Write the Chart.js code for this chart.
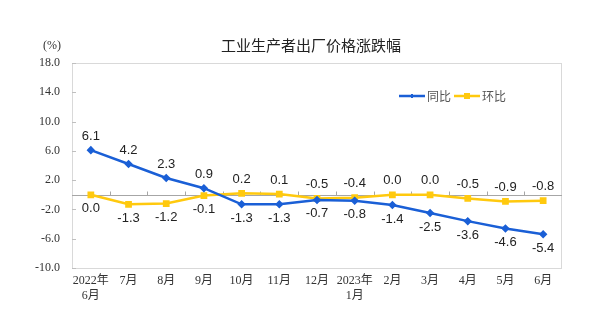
<!DOCTYPE html>
<html>
<head>
<meta charset="utf-8">
<script src="https://cdn.jsdelivr.net/npm/chart.js@4"></script>
<style>
  html, body { margin: 0; padding: 0; background: #fff; }
  #wrap { width: 600px; height: 325px; }
</style>
</head>
<body>
<div id="wrap"><canvas id="c"></canvas></div>
<script>
const months = [['2022年', '6月'], '7月', '8月', '9月', '10月', '11月', '12月', ['2023年', '1月'], '2月', '3月', '4月', '5月', '6月'];
const yoy = [6.1, 4.2, 2.3, 0.9, -1.3, -1.3, -0.7, -0.8, -1.4, -2.5, -3.6, -4.6, -5.4]; // 同比
const mom = [0.0, -1.3, -1.2, -0.1, 0.2, 0.1, -0.5, -0.4, 0.0, 0.0, -0.5, -0.9, -0.8]; // 环比
const yTicks = [18, 14, 10, 6, 2, -2, -6, -10];

const BLUE = '#1a5fd6';
const YELLOW = '#ffc90e';
const serif = '"Liberation Serif", "Noto Sans CJK SC", serif';
const sans = '"Liberation Sans", Arial, sans-serif';
const cjk = '"Noto Sans CJK SC", sans-serif';

// frame, zero line, tick marks, title, legend and value labels
const decor = {
  id: 'decor',
  beforeDatasetsDraw(chart) {
    const { ctx, chartArea: a, scales: { x, y } } = chart;
    ctx.save();
    ctx.strokeStyle = '#d9d9d9';
    ctx.lineWidth = 1;
    ctx.strokeRect(a.left + 0.5, a.top + 0.5, a.right - a.left - 1, a.bottom - a.top);
    // y tick marks
    ctx.strokeStyle = '#bfbfbf';
    ctx.beginPath();
    yTicks.forEach(v => {
      const py = Math.round(y.getPixelForValue(v)) + 0.5;
      ctx.moveTo(a.left, py);
      ctx.lineTo(a.left + 4, py);
    });
    ctx.stroke();
    // zero line with category ticks
    const y0 = Math.round(y.getPixelForValue(0)) + 0.5;
    ctx.strokeStyle = '#a6a6a6';
    ctx.beginPath();
    ctx.moveTo(a.left, y0);
    ctx.lineTo(a.right, y0);
    const step = x.getPixelForValue(1) - x.getPixelForValue(0);
    for (let i = 1; i < months.length; i++) {
      const px = Math.round(x.getPixelForValue(i) - step / 2) + 0.5;
      ctx.moveTo(px, y0);
      ctx.lineTo(px, y0 - 4);
    }
    ctx.stroke();
    ctx.restore();
  },
  afterDraw(chart) {
    const { ctx, chartArea: a, scales: { x, y } } = chart;
    ctx.save();
    // title
    ctx.fillStyle = '#222';
    ctx.font = '15px ' + cjk;
    ctx.textAlign = 'center';
    ctx.textBaseline = 'middle';
    ctx.fillText('工业生产者出厂价格涨跌幅', (a.left + a.right) / 2 - 6, 45);
    // unit
    ctx.font = '12px ' + serif;
    ctx.fillStyle = '#333';
    ctx.fillText('(%)', 52, 46);
    // legend
    const items = [['同比', BLUE, 'diamond', 399], ['环比', YELLOW, 'square', 454]];
    items.forEach(([name, col, mk, lx]) => {
      const ly = 96;
      ctx.strokeStyle = col;
      ctx.fillStyle = col;
      ctx.lineWidth = 2.5;
      ctx.beginPath();
      ctx.moveTo(lx, ly);
      ctx.lineTo(lx + 26, ly);
      ctx.stroke();
      if (mk === 'square') ctx.fillRect(lx + 10, ly - 3, 6, 6);
      else ctx.fillRect(lx + 12, ly - 2, 2, 4);
      ctx.fillStyle = '#555';
      ctx.font = '12px ' + cjk;
      ctx.textAlign = 'left';
      ctx.fillText(name, lx + 28, ly);
    });
    // value labels: higher series above, lower below
    ctx.font = '13px ' + sans;
    ctx.fillStyle = '#222';
    ctx.textAlign = 'center';
    const series = [yoy, mom];
    series.forEach((vals, s) => {
      const other = series[1 - s];
      vals.forEach((v, i) => {
        const px = x.getPixelForValue(i);
        const py = y.getPixelForValue(v);
        const above = v >= other[i];
        ctx.fillText(v.toFixed(1), px, above ? py - 14 : py + 14);
      });
    });
    ctx.restore();
  }
};

new Chart(document.getElementById('c'), {
  type: 'line',
  data: {
    labels: months,
    datasets: [
      {
        label: '同比',
        data: yoy,
        borderColor: BLUE,
        backgroundColor: BLUE,
        borderWidth: 2.5,
        pointStyle: 'rectRot',
        pointRadius: 2.5,
        tension: 0
      },
      {
        label: '环比',
        data: mom,
        borderColor: YELLOW,
        backgroundColor: YELLOW,
        borderWidth: 2.5,
        pointStyle: 'rect',
        pointRadius: 3,
        tension: 0
      }
    ]
  },
  options: {
    responsive: true,
    maintainAspectRatio: false,
    animation: false,
    layout: { padding: { top: 63, right: 38, left: 0, bottom: 0 } },
    plugins: {
      legend: { display: false },
      title: { display: false },
      tooltip: { enabled: false }
    },
    scales: {
      x: {
        offset: true,
        grid: { display: false, drawTicks: false },
        border: { display: false },
        ticks: {
          autoSkip: false,
          maxRotation: 0,
          padding: 5,
          color: '#333',
          font: { family: serif, size: 12, lineHeight: 1.25 }
        },
        afterFit(s) { s.height = 57; }
      },
      y: {
        min: -10,
        max: 18,
        grid: { display: false, drawTicks: false },
        border: { display: false },
        afterBuildTicks(s) { s.ticks = yTicks.map(v => ({ value: v })); },
        ticks: {
          padding: 12,
          color: '#333',
          font: { family: serif, size: 12 },
          callback: v => v.toFixed(1)
        },
        afterFit(s) { s.width = 72; }
      }
    }
  },
  plugins: [decor]
});
</script>
</body>
</html>
